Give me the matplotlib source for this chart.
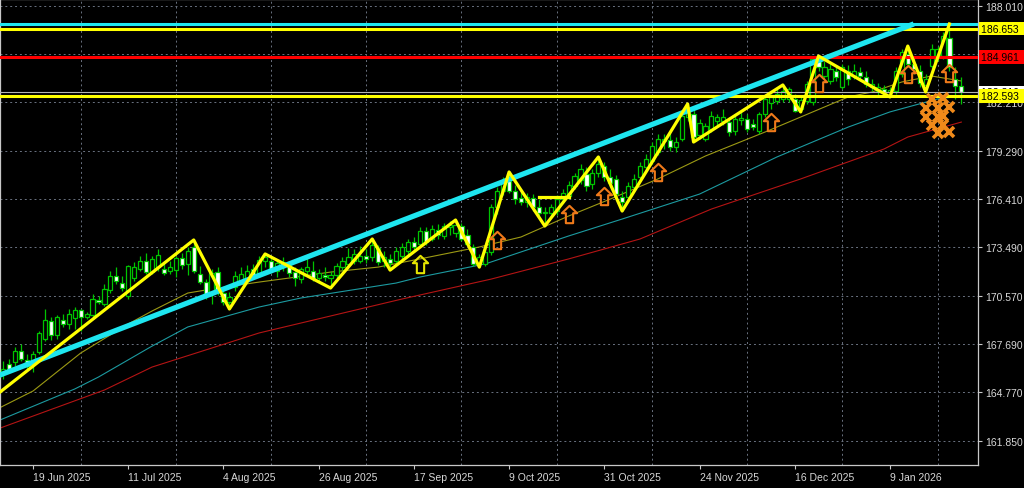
import numpy as np
import pandas as pd
import matplotlib
matplotlib.use("Agg")
import matplotlib.pyplot as plt
from matplotlib.path import Path
from matplotlib.ticker import FixedLocator

plt.rcParams["font.family"] = ["Liberation Sans", "DejaVu Sans"]

# ---------------------------------------------------------------
# data (daily bars, 12 Jun 2025 .. 27 Jan 2026, no bars on 25 Dec / 1 Jan)
# ---------------------------------------------------------------
dates = pd.bdate_range("2025-06-12", "2026-01-27")
dates = dates[~dates.isin(pd.to_datetime(["2025-12-25", "2026-01-01"]))]

opens = [
    165.88, 166.48, 166.60, 167.26, 166.72, 166.60, 167.20, 167.99, 169.07, 168.23,
    169.13, 168.89, 169.25, 169.73, 169.31, 169.43, 170.33, 170.09, 170.93, 171.77,
    171.35, 170.57, 171.65, 172.19, 172.67, 172.01, 172.31, 172.19, 172.07, 172.13,
    172.86, 172.49, 173.52, 171.89, 171.41, 170.69, 172.01, 170.75, 170.21, 171.11,
    171.47, 171.59, 172.19, 171.89, 172.67, 172.67, 172.07, 172.31, 172.43, 172.01,
    171.59, 172.07, 172.07, 171.65, 171.83, 171.65, 171.83, 172.31, 172.49, 172.67,
    172.67, 172.98, 172.92, 173.46, 172.67, 172.80, 172.67, 172.98, 173.28, 173.82,
    173.70, 174.48, 174.00, 174.54, 174.18, 174.72, 174.36, 174.78, 174.24, 173.52,
    172.55, 172.49, 173.22, 175.92, 176.88, 177.49, 176.88, 176.46, 176.22, 176.46,
    175.92, 175.56, 175.56, 175.68, 176.40, 176.58, 177.19, 177.55, 177.91, 177.31,
    177.97, 178.39, 177.73, 177.61, 176.52, 176.52, 177.12, 177.73, 178.33, 178.69,
    179.23, 179.89, 179.95, 179.53, 180.01, 181.33, 181.52, 180.25, 180.01, 180.61,
    181.09, 181.09, 181.03, 180.49, 181.15, 181.21, 180.91, 180.49, 181.52, 182.18,
    182.30, 182.42, 182.42, 182.42, 181.82, 182.30, 182.24, 184.70, 183.80, 183.50,
    184.10, 183.14, 184.10, 183.80, 184.04, 183.74, 183.14, 182.90, 183.02, 182.84,
    182.90, 183.92, 185.12, 184.52, 184.10, 183.26, 184.40, 184.94, 185.00, 186.09,
    183.62, 183.20,
]
highs = [
    166.66, 166.78, 167.50, 167.68, 167.08, 167.26, 168.47, 169.79, 169.31, 169.43,
    169.49, 169.79, 169.91, 169.79, 169.61, 170.69, 170.57, 171.29, 172.07, 172.31,
    171.77, 172.43, 172.61, 172.97, 173.16, 172.97, 173.40, 172.67, 172.67, 172.97,
    173.16, 173.52, 173.94, 172.37, 171.59, 172.19, 172.31, 170.99, 170.81, 172.07,
    172.31, 172.43, 172.49, 172.97, 173.10, 172.92, 172.80, 172.92, 172.67, 172.31,
    172.31, 172.92, 172.67, 172.19, 172.31, 172.07, 172.55, 172.92, 173.46, 173.40,
    173.58, 173.40, 174.00, 173.64, 173.28, 173.10, 173.52, 173.76, 174.00, 174.12,
    174.72, 174.72, 174.84, 174.90, 174.96, 175.08, 175.14, 174.96, 174.60, 173.70,
    173.10, 173.52, 176.10, 177.12, 177.73, 178.03, 177.25, 176.88, 176.76, 176.70,
    176.40, 175.92, 176.10, 176.64, 177.00, 177.49, 177.97, 178.51, 178.33, 178.21,
    178.93, 178.63, 178.21, 177.85, 176.88, 177.43, 177.91, 178.63, 179.11, 179.83,
    180.31, 180.31, 180.49, 180.13, 181.70, 182.12, 181.94, 181.21, 180.97, 181.70,
    181.52, 181.82, 181.33, 181.45, 181.64, 181.52, 181.21, 181.64, 182.54, 182.72,
    183.02, 183.26, 183.14, 182.72, 182.54, 183.50, 184.94, 185.00, 184.70, 184.52,
    184.46, 184.52, 184.46, 184.52, 184.34, 184.10, 183.62, 183.38, 183.26, 183.14,
    184.34, 185.42, 185.60, 184.94, 184.46, 183.92, 185.72, 185.60, 186.45, 186.93,
    184.34, 183.74,
]
lows = [
    165.58, 166.00, 166.36, 166.66, 166.18, 166.00, 167.08, 167.87, 167.93, 167.99,
    168.71, 168.59, 168.59, 168.47, 169.19, 169.31, 170.09, 169.97, 170.75, 171.29,
    170.87, 170.39, 171.47, 172.07, 171.89, 171.89, 172.07, 171.83, 171.89, 171.71,
    172.19, 171.83, 171.95, 171.29, 170.39, 170.09, 170.63, 170.03, 169.79, 170.87,
    171.29, 171.35, 171.59, 171.71, 172.31, 171.95, 171.71, 172.07, 171.71, 171.17,
    171.35, 171.77, 171.47, 171.35, 171.47, 171.05, 171.65, 172.13, 172.31, 172.49,
    172.55, 172.55, 172.67, 172.43, 172.31, 172.13, 172.43, 172.80, 173.10, 173.28,
    173.52, 173.64, 173.88, 174.00, 174.00, 174.24, 174.12, 173.88, 173.58, 172.37,
    172.31, 172.37, 173.04, 175.50, 176.64, 176.76, 176.10, 176.04, 175.92, 175.68,
    175.20, 174.78, 175.32, 175.44, 176.16, 176.40, 177.00, 177.31, 176.88, 177.00,
    177.73, 177.49, 177.12, 176.52, 175.68, 176.28, 176.88, 177.49, 178.09, 178.51,
    179.05, 179.41, 179.29, 179.23, 179.89, 181.09, 179.83, 180.01, 179.90, 180.43,
    180.85, 180.85, 180.19, 180.25, 180.85, 180.43, 180.55, 180.31, 181.33, 181.82,
    182.12, 182.24, 182.24, 181.64, 181.64, 182.12, 182.06, 184.10, 183.62, 183.32,
    183.50, 183.02, 183.26, 183.62, 183.62, 183.14, 182.90, 182.66, 182.66, 182.54,
    182.72, 183.74, 184.34, 183.92, 183.14, 182.84, 184.22, 184.70, 184.82, 184.10,
    182.42, 182.12,
]
closes = [
    166.18, 166.18, 167.26, 166.78, 166.36, 167.08, 168.35, 169.13, 168.23, 169.31,
    168.89, 169.49, 169.73, 169.31, 169.49, 170.39, 170.21, 170.99, 171.77, 171.47,
    171.05, 172.37, 172.31, 172.67, 172.01, 172.80, 173.04, 171.95, 172.31, 172.86,
    172.43, 173.28, 172.07, 171.41, 170.63, 171.95, 170.87, 170.21, 170.51, 171.77,
    171.89, 172.07, 171.77, 172.74, 172.92, 172.13, 172.55, 172.61, 171.95, 171.65,
    172.19, 172.31, 171.65, 171.95, 171.71, 171.83, 172.37, 172.67, 172.92, 173.10,
    172.98, 172.80, 173.64, 172.61, 172.92, 172.55, 173.28, 173.52, 173.82, 173.52,
    174.48, 173.82, 174.60, 174.24, 174.78, 174.84, 174.84, 174.00, 173.70, 172.49,
    172.92, 173.22, 175.92, 176.88, 177.49, 176.88, 176.40, 176.22, 176.52, 175.92,
    175.56, 175.62, 175.92, 176.40, 176.76, 177.25, 177.79, 178.21, 177.19, 177.97,
    178.51, 177.73, 177.37, 176.70, 176.22, 177.19, 177.61, 178.39, 178.81, 179.59,
    180.01, 180.01, 179.53, 179.83, 181.39, 181.82, 180.13, 180.97, 180.79, 181.39,
    181.33, 181.33, 180.43, 181.21, 181.27, 180.61, 180.73, 181.52, 182.42, 182.54,
    182.72, 182.90, 183.02, 181.70, 182.36, 183.32, 184.82, 184.34, 184.34, 184.22,
    183.74, 184.34, 183.62, 184.10, 183.80, 183.32, 183.32, 183.14, 182.84, 182.96,
    184.10, 185.24, 184.52, 184.22, 183.38, 183.62, 185.42, 185.42, 186.21, 184.34,
    183.20, 182.81,
]

# moving averages (read at a few bars)
ma_fast_idx = [-1, 5, 13, 21, 25, 31, 35, 43, 48, 55, 63, 70, 80, 87, 95, 102, 110,
               118, 128, 142, 146, 151, 156, 161]
ma_fast = [163.78, 164.86, 167.14, 168.89, 169.67, 170.75, 170.99, 171.41, 171.65,
           172.01, 172.31, 172.80, 173.52, 174.12, 175.38, 176.40, 177.61, 178.99,
           180.43, 182.54, 182.84, 183.44, 183.80, 183.50]
ma_mid_idx = [-1, 12, 16, 25, 31, 43, 50, 66, 70, 81, 95, 104, 117, 130, 142, 149,
              157, 161]
ma_mid = [163.05, 164.98, 165.70, 167.56, 168.71, 169.91, 170.45, 171.35, 171.71,
          172.50, 174.18, 175.20, 176.70, 178.93, 180.73, 181.64, 182.42, 182.60]
ma_slow_idx = [-1, 17, 25, 43, 67, 82, 95, 107, 119, 134, 148, 152, 161]
ma_slow = [162.57, 164.92, 166.30, 168.35, 170.39, 171.59, 172.80, 174.00, 175.80,
           177.61, 179.41, 180.13, 181.03]

# zigzag pivots (bar index, price)
zz_idx = [-1, 32, 38, 44, 55, 62, 65, 76, 80, 85, 91, 100, 104, 115, 116, 131, 134,
          137, 149, 152, 155, 159]
zz_price = [164.67, 173.94, 169.79, 173.10, 171.05, 174.00, 172.13, 175.14, 172.31,
            178.03, 174.78, 178.93, 175.68, 182.12, 179.83, 183.26, 181.64, 185.00,
            182.54, 185.60, 182.84, 186.93]

# trend line and levels
trend_idx = [-1, 153]
trend_price = [165.76, 186.93]
seg_idx = [90, 95]
seg_price = [176.52, 176.52]
levels = [186.95, 186.653, 184.961, 182.593]
level_colors = ["#1ee6f0", "#ffff00", "#ff0000", "#ffff00"]
bid = 182.810

# signal arrows (bar index, price) and X marks
arrow_idx = [70, 83, 95, 101, 110, 129, 137, 152, 159]
arrow_price = [172.49, 173.94, 175.50, 176.58, 178.00, 181.06, 183.35, 183.92, 184.01]
arrow_colors = ["#e6e600"] + ["#f07a1a"] * 8
x_idx = [156, 158, 155, 157, 159, 155, 157, 158, 156, 158, 157, 159]
x_price = [182.42, 182.48, 181.88, 181.88, 181.94, 181.33, 181.33, 181.39, 180.85,
           180.85, 180.37, 180.43]

# axis labels (185.130 sits under the red level box)
y_ticks = [188.010, 185.130, 182.210, 179.290, 176.410, 173.490, 170.570, 167.690,
           164.770, 161.850]
y_labels = ["188.010", "", "182.210", "179.290", "176.410", "173.490", "170.570",
            "167.690", "164.770", "161.850"]
date_labels = ["19 Jun 2025", "11 Jul 2025", "4 Aug 2025", "26 Aug 2025", "17 Sep 2025",
               "9 Oct 2025", "31 Oct 2025", "24 Nov 2025", "16 Dec 2025", "9 Jan 2026"]
date_ticks = pd.to_datetime(["2025-06-19", "2025-07-11", "2025-08-04", "2025-08-26",
                             "2025-09-17", "2025-10-09", "2025-10-31", "2025-11-24",
                             "2025-12-16", "2026-01-09"])

# ---------------------------------------------------------------
# figure
# ---------------------------------------------------------------
BG = "#000000"
GRID = "#6a7280"
FRAME = "#c8c8c8"
TXT = "#d8d8d8"
CANDLE = "#00c400"

fig = plt.figure(figsize=(10.24, 4.89), dpi=100)
fig.patch.set_facecolor(BG)
ax = fig.add_axes([0.0, 23 / 489, 978 / 1024, 466 / 489])
ax.set_facecolor(BG)

o = np.array(opens)
h = np.array(highs)
l = np.array(lows)
c = np.array(closes)
x = np.arange(len(c))

# moving averages
ax.plot(ma_fast_idx, ma_fast, color="#9c9a14", lw=0.8, zorder=2)
ax.plot(ma_mid_idx, ma_mid, color="#1c9aa0", lw=0.8, zorder=2)
ax.plot(ma_slow_idx, ma_slow, color="#b41414", lw=0.8, zorder=2)

# candles
ax.vlines(x, l, h, color=CANDLE, lw=0.9, zorder=3)
up = c >= o
body_lo = np.minimum(o, c)
body_h = np.abs(c - o)
ax.bar(x[up], body_h[up], bottom=body_lo[up], width=0.7, facecolor="#000000",
       edgecolor=CANDLE, lw=0.9, zorder=4)
ax.bar(x[~up], body_h[~up], bottom=body_lo[~up], width=0.7, facecolor="#ffffff",
       edgecolor=CANDLE, lw=0.9, zorder=4)

# levels, trend line, zigzag
ax.axhline(bid, color="#b4b4b4", lw=0.8, zorder=5)
for lv, col in zip(levels, level_colors):
    ax.axhline(lv, color=col, lw=2.2, zorder=6)
ax.plot(trend_idx, trend_price, color="#1ee6f0", lw=3.8, solid_capstyle="butt", zorder=6)
ax.plot(zz_idx, zz_price, color="#ffff00", lw=2.3, zorder=7)
ax.plot(seg_idx, seg_price, color="#ffff00", lw=2.3, zorder=7)

# arrows
arrow_path = Path(
    [(0, 1), (-0.88, 0.15), (-0.42, 0.15), (-0.42, -1), (0.42, -1), (0.42, 0.15),
     (0.88, 0.15), (0, 1)],
    [Path.MOVETO] + [Path.LINETO] * 6 + [Path.CLOSEPOLY],
)
for xi, yi, col in zip(arrow_idx, arrow_price, arrow_colors):
    ax.plot(xi, yi, marker=arrow_path, markersize=12.5, markerfacecolor="none",
            markeredgecolor=col, markeredgewidth=1.5, zorder=8)
ax.plot(x_idx, x_price, linestyle="none", marker="x", markersize=7.5,
        markeredgewidth=2.6, color="#f08a1a", zorder=8)

# axes
ax.set_xlim(-0.555, 163.8)
ax.set_ylim(160.41, 188.43)

tick_pos = [dates.get_loc(d) for d in date_ticks]
ax.set_xticks(tick_pos)
ax.set_xticklabels(date_labels)
ax.xaxis.set_minor_locator(FixedLocator(np.arange(-3, 164, 8)))
for lbl in ax.get_xticklabels():
    lbl.set_ha("left")
ax.tick_params(axis="x", which="major", colors=FRAME, labelcolor=TXT, length=3,
               width=0.8, pad=2, labelsize=7.5)
ax.tick_params(axis="x", which="minor", length=0)

ax.yaxis.tick_right()
ax.set_yticks(y_ticks)
ax.set_yticklabels(y_labels)
ax.tick_params(axis="y", colors=FRAME, labelcolor=TXT, length=3, width=0.8, pad=2,
               labelsize=7.5)

ax.grid(True, which="minor", axis="x", color=GRID, lw=0.7, linestyle=(0, (2, 3)))
ax.grid(True, which="major", axis="y", color=GRID, lw=0.7, linestyle=(0, (2, 3)))
ax.set_axisbelow(True)
for sp in ax.spines.values():
    sp.set_edgecolor(FRAME)
    sp.set_linewidth(0.9)

# price boxes on the right scale
boxes = [(186.653, "#ffff00"), (184.961, "#ff0000"), (bid, "#ffffff"), (182.593, "#ffff00")]
for price, col in boxes:
    ax.annotate(f"{price:.3f}  ", xy=(1, price), xycoords=("axes fraction", "data"),
                xytext=(2, 0), textcoords="offset points", va="center", ha="left",
                fontsize=7.5, color="#000000", annotation_clip=False, zorder=20,
                bbox=dict(boxstyle="square,pad=0.18", fc=col, ec="none"))

fig.savefig("out.png", dpi=100, facecolor=fig.get_facecolor())
